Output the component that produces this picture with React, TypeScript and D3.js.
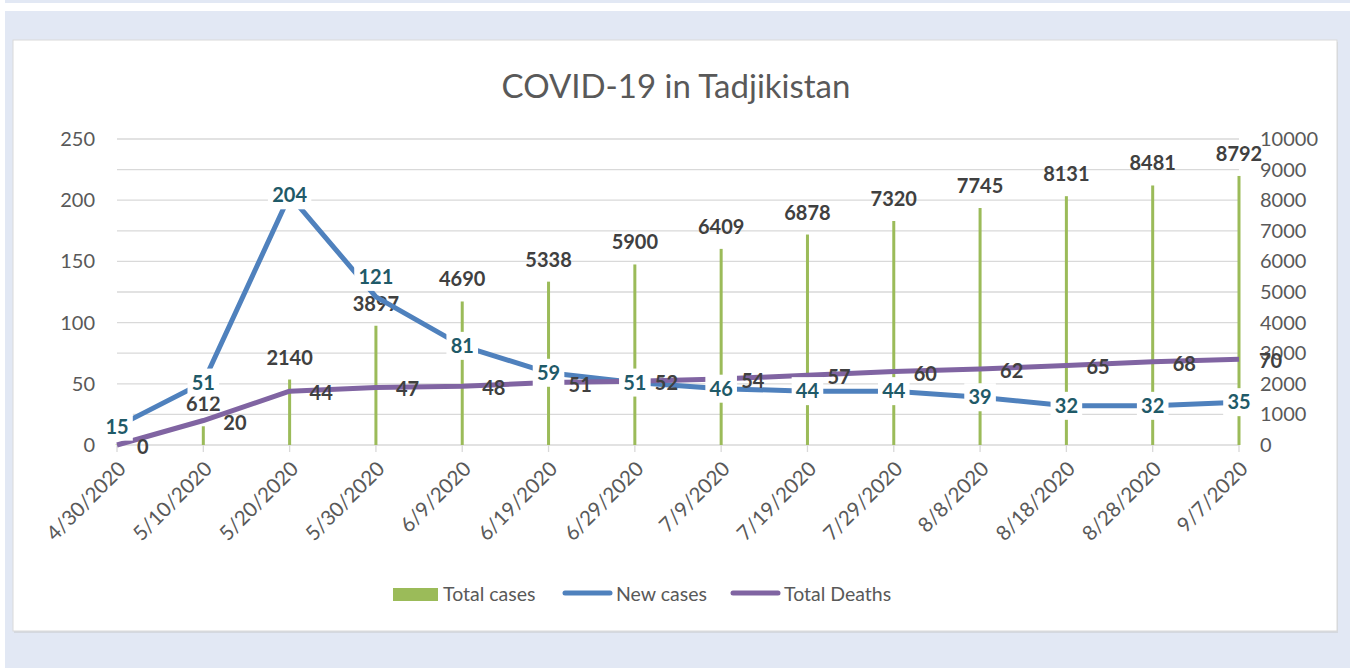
import React from 'react';
import * as d3 from 'd3';

// chart data
const dates = ['4/30/2020', '5/10/2020', '5/20/2020', '5/30/2020', '6/9/2020', '6/19/2020', '6/29/2020',
  '7/9/2020', '7/19/2020', '7/29/2020', '8/8/2020', '8/18/2020', '8/28/2020', '9/7/2020'];
const totalCases = [15, 612, 2140, 3897, 4690, 5338, 5900, 6409, 6878, 7320, 7745, 8131, 8481, 8792];
const newCases = [15, 51, 204, 121, 81, 59, 51, 46, 44, 44, 39, 32, 32, 35];
const totalDeaths = [0, 20, 44, 47, 48, 51, 52, 54, 57, 60, 62, 65, 68, 70];
const leftTicks = [0, 50, 100, 150, 200, 250];
const rightTicks = [0, 1000, 2000, 3000, 4000, 5000, 6000, 7000, 8000, 9000, 10000];

// label nudges (Excel moved the 121 label up)
const newCasesLabelNudge: Record<number, number> = { 3: -20 };

const W = 1350, H = 668;
const plot = { left: 117, right: 1239, top: 139, bottom: 445 };
const font = 'Lato, "Open Sans", sans-serif';
const colors = { bars: '#9BBB59', newCases: '#4F81BD', deaths: '#8064A2', teal: '#1F5A68', dark: '#404040', axis: '#595959', grid: '#D9D9D9' };

export default function App()
{
  const x = d3.scalePoint<string>().domain(dates).range([plot.left, plot.right]).padding(0);
  const yL = d3.scaleLinear().domain([0, 250]).range([plot.bottom, plot.top]);
  const yR = d3.scaleLinear().domain([0, 10000]).range([plot.bottom, plot.top]);

  const newLine = d3.line<number>().x((d, i) => x(dates[i])!).y(d => yL(d));
  const deathLine = d3.line<number>().x((d, i) => x(dates[i])!).y(d => yL(d));

  return (
    <svg width={W} height={H} style={{ position: 'absolute', left: 0, top: 0, background: '#fff' }}>
      {/* backgrounds */}
      <rect x={5} y={0} width={W - 5} height={3} fill="#E2E8F4" />
      <rect x={5} y={11} width={W - 5} height={H - 11} fill="#E2E8F4" />
      <rect x={14} y={42} width={1324} height={591} fill="#D4D8DF" />
      <rect x={13} y={40} width={1324} height={591} fill="#fff" stroke="#D9D9D9" />

      <text x={676} y={86} dy="0.35em" textAnchor="middle" fontFamily={font} fontSize={33} fill={colors.axis}>COVID-19 in Tadjikistan</text>

      {/* gridlines */}
      {rightTicks.map(t => (
        <line key={t} x1={plot.left} x2={plot.right} y1={yR(t)} y2={yR(t)} stroke={colors.grid} strokeWidth={1.3} />
      ))}
      {/* x ticks */}
      {dates.map(d => (
        <line key={d} x1={x(d)} x2={x(d)} y1={plot.bottom} y2={plot.bottom + 7} stroke={colors.grid} strokeWidth={1.3} />
      ))}

      {/* left axis labels */}
      {leftTicks.map(t => (
        <text key={t} x={95} y={yL(t)} dy="0.35em" textAnchor="end" fontFamily={font} fontSize={20} fill={colors.axis}>{t}</text>
      ))}
      {/* right axis labels */}
      {rightTicks.map(t => (
        <text key={t} x={1260} y={yR(t)} dy="0.35em" textAnchor="start" fontFamily={font} fontSize={20} fill={colors.axis}>{t}</text>
      ))}
      {/* x labels */}
      {dates.map(d => (
        <text key={d} transform={`translate(${x(d)! + 5},${plot.bottom + 20}) rotate(-45)`} textAnchor="end" dy="0.35em"
          fontFamily={font} fontSize={20.5} fill={colors.axis}>{d}</text>
      ))}

      {/* total cases bars */}
      {totalCases.map((v, i) => (
        <rect key={i} x={x(dates[i])! - 1.5} width={3} y={yR(v)} height={plot.bottom - yR(v)} fill={colors.bars} />
      ))}
      {totalCases.map((v, i) => (
        <text key={i} x={x(dates[i])} y={yR(v) - 22} dy="0.35em" textAnchor="middle" fontFamily={font} fontWeight="bold"
          fontSize={20} fill={colors.dark}>{v}</text>
      ))}

      {/* lines */}
      <path d={newLine(newCases)!} fill="none" stroke={colors.newCases} strokeWidth={5} strokeLinejoin="round" />
      <path d={deathLine(totalDeaths)!} fill="none" stroke={colors.deaths} strokeWidth={5} strokeLinejoin="round" />

      {/* deaths labels, to the right of the point */}
      {totalDeaths.map((v, i) => (
        <text key={i} x={x(dates[i])! + 20} y={yL(v) + 2} dy="0.35em" fontFamily={font} fontWeight="bold"
          fontSize={20} fill={colors.dark}>{v}</text>
      ))}

      {/* new cases labels with white boxes */}
      {newCases.map((v, i) => {
        const cx = x(dates[i])!;
        const cy = yL(v) + (newCasesLabelNudge[i] || 0);
        const w = String(v).length * 11.8 + 8;
        return (
          <g key={i}>
            <rect x={cx - w / 2} y={cy - 14} width={w} height={28} fill="#fff" />
            <text x={cx} y={cy} dy="0.35em" textAnchor="middle" fontFamily={font} fontWeight="bold" fontSize={20} fill={colors.teal}>{v}</text>
          </g>
        );
      })}

      {/* legend */}
      <rect x={393} y={588} width={45} height={13} fill={colors.bars} />
      <text x={443} y={594} dy="0.35em" fontFamily={font} fontSize={19.5} fill={colors.axis}>Total cases</text>
      <line x1={565} x2={610} y1={593} y2={593} stroke={colors.newCases} strokeWidth={5} strokeLinecap="round" />
      <text x={616} y={594} dy="0.35em" fontFamily={font} fontSize={19.5} fill={colors.axis}>New cases</text>
      <line x1={733} x2={778} y1={593} y2={593} stroke={colors.deaths} strokeWidth={5} strokeLinecap="round" />
      <text x={784} y={594} dy="0.35em" fontFamily={font} fontSize={19.5} fill={colors.axis}>Total Deaths</text>
    </svg>
  );
}
